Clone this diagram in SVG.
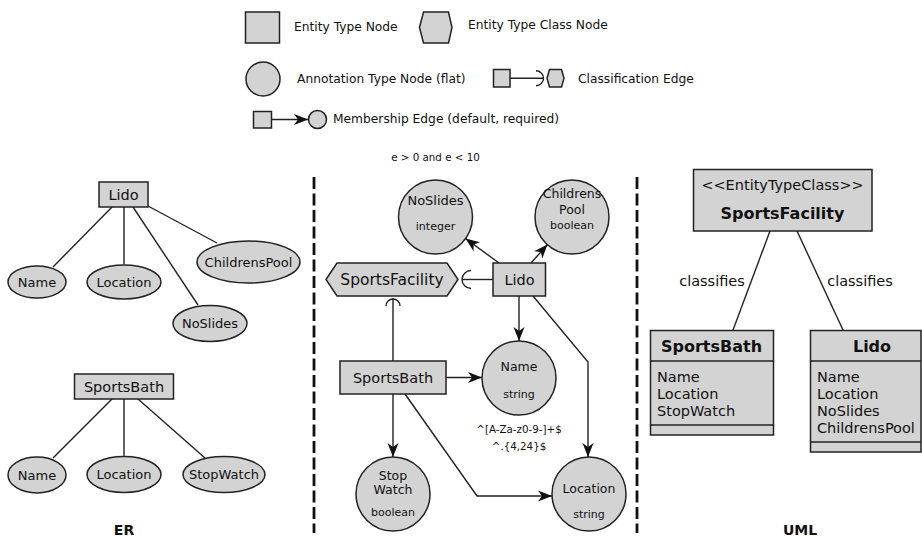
<svg xmlns="http://www.w3.org/2000/svg" width="922" height="537" viewBox="0 0 922 537">
  <defs>
    <style>
      .shape { fill: #d3d3d3; stroke: #222; stroke-width: 1.5; }
      .edge { fill: none; stroke: #222; stroke-width: 1.4; }
      .arrow { fill: none; stroke: #222; stroke-width: 1.4; marker-end: url(#tip); }
      .sep { fill: none; stroke: #111; stroke-width: 2.8; stroke-dasharray: 12 4.5; }
      text { font-family: "DejaVu Sans", "Noto Sans", sans-serif; fill: #111; }
      .lg { font-size: 12.25px; }
      .c { text-anchor: middle; dominant-baseline: central; }
      .ml { dominant-baseline: central; }
      .attr { font-size: 13px; }
      .small { font-size: 11px; }
      .tiny { font-size: 10.3px; }
      .box { font-size: 14.5px; }
      .uml { font-size: 14.5px; }
      .b { font-weight: bold; }
    </style>
    <marker id="tip" markerWidth="16" markerHeight="12" viewBox="-15 -6 16 12" refX="0" refY="0" orient="auto" markerUnits="userSpaceOnUse">
      <path d="M0,0 L-14,-5.5 L-10,0 L-14,5.5 Z" fill="#111"/>
    </marker>
  </defs>

  <!-- legend -->
  <g id="legend">
    <rect class="shape" x="245.5" y="12" width="34" height="31"/>
    <text class="lg ml" x="294" y="27">Entity Type Node</text>
    <polygon class="shape" points="419.5,27.5 423.5,12 448.5,12 452,27.5 448.5,43 423.5,43"/>
    <text class="lg ml" x="468" y="25">Entity Type Class Node</text>
    <circle class="shape" cx="263" cy="79" r="17"/>
    <text class="lg ml" x="297" y="79">Annotation Type Node (flat)</text>
    <rect class="shape" x="493.5" y="69.5" width="16.5" height="17.5"/>
    <path class="edge" d="M510,78.3 L543,78.3"/>
    <path class="edge" d="M536,70.8 A7.5,7.5 0 0,1 536,85.8"/>
    <polygon class="shape" points="547,78.3 549.5,69.5 561.5,69.5 564,78.3 561.5,87 549.5,87"/>
    <text class="lg ml" x="578" y="79">Classification Edge</text>
    <rect class="shape" x="253.5" y="111.5" width="18" height="16.5"/>
    <path class="arrow" d="M271.5,119.5 L308,119.5"/>
    <circle class="shape" cx="317.5" cy="119.5" r="9"/>
    <text class="lg ml" x="333" y="119">Membership Edge (default, required)</text>
  </g>

  <!-- section separators -->
  <g id="separators">
    <line class="sep" x1="314" y1="177" x2="314" y2="533"/>
    <line class="sep" x1="637" y1="177" x2="637" y2="533"/>
  </g>

  <!-- ER view -->
  <g id="er-connectors">
    <line class="edge" x1="112" y1="207" x2="53" y2="267"/>
    <line class="edge" x1="124" y1="207" x2="124" y2="264"/>
    <line class="edge" x1="133" y1="207" x2="198" y2="305"/>
    <line class="edge" x1="148" y1="206" x2="217" y2="243"/>
    <line class="edge" x1="112" y1="399" x2="53" y2="458"/>
    <line class="edge" x1="124" y1="399" x2="124" y2="456"/>
    <line class="edge" x1="138" y1="399" x2="205" y2="458"/>
  </g>
  <g id="er-lido">
    <rect class="shape" x="99" y="182" width="49" height="25"/>
    <text class="box c" x="123.5" y="194.5">Lido</text>
  </g>
  <g id="er-lido-name">
    <ellipse class="shape" cx="37" cy="282" rx="29" ry="16"/>
    <text class="attr c" x="37" y="282">Name</text>
  </g>
  <g id="er-lido-location">
    <ellipse class="shape" cx="124" cy="282" rx="37" ry="17"/>
    <text class="attr c" x="124" y="282">Location</text>
  </g>
  <g id="er-lido-noslides">
    <ellipse class="shape" cx="210" cy="323.5" rx="37" ry="18"/>
    <text class="attr c" x="210" y="323.5">NoSlides</text>
  </g>
  <g id="er-lido-childrenspool">
    <ellipse class="shape" cx="248.5" cy="262" rx="51.5" ry="21"/>
    <text class="attr c" x="248.5" y="262">ChildrensPool</text>
  </g>
  <g id="er-sportsbath">
    <rect class="shape" x="74.5" y="374" width="99" height="25"/>
    <text class="box c" x="124" y="386.5">SportsBath</text>
  </g>
  <g id="er-sportsbath-name">
    <ellipse class="shape" cx="37" cy="475" rx="29" ry="18"/>
    <text class="attr c" x="37" y="475">Name</text>
  </g>
  <g id="er-sportsbath-location">
    <ellipse class="shape" cx="124" cy="474.5" rx="37" ry="18"/>
    <text class="attr c" x="124" y="474.5">Location</text>
  </g>
  <g id="er-sportsbath-stopwatch">
    <ellipse class="shape" cx="224" cy="474.5" rx="41" ry="18"/>
    <text class="attr c" x="224" y="474.5">StopWatch</text>
  </g>
  <text class="b c" x="124" y="530" font-size="14">ER</text>

  <!-- type graph view -->
  <g id="tg-connectors">
    <path class="arrow" d="M499,263 L465.5,238.5"/>
    <path class="arrow" d="M531,263 L547.5,244.5"/>
    <path class="arrow" d="M519,296 L519,341"/>
    <path class="arrow" d="M533,296 L588,362 L588,457"/>
    <path class="arrow" d="M446,377.5 L482,377.5"/>
    <path class="arrow" d="M393,394 L393,457"/>
    <path class="arrow" d="M405,394 L477,496 L552,496"/>
    <path class="edge" d="M493,279.5 L462,279.5"/>
    <path class="edge" d="M471,270.5 A9,9 0 0,0 471,288.5"/>
    <path class="edge" d="M393,361 L393,298"/>
    <path class="edge" d="M386,306 A7,7 0 0,1 400,306"/>
  </g>
  <text class="tiny c" x="435.5" y="157">e &gt; 0 and e &lt; 10</text>
  <g id="tg-noslides">
    <circle class="shape" cx="435.5" cy="217" r="37"/>
    <text class="attr c" x="435.5" y="200" font-size="12.5">NoSlides</text>
    <text class="small c" x="435.5" y="226">integer</text>
  </g>
  <g id="tg-childrenspool">
    <circle class="shape" cx="572" cy="217" r="37"/>
    <text class="c" x="572" y="193" font-size="12.5">Childrens</text>
    <text class="c" x="572" y="209" font-size="12.5">Pool</text>
    <text class="small c" x="572" y="225">boolean</text>
  </g>
  <g id="tg-sportsfacility">
    <polygon class="shape" points="326,279.5 337,263 447,263 458,279.5 447,296 337,296"/>
    <text class="c" x="392" y="280" font-size="15.5">SportsFacility</text>
  </g>
  <g id="tg-lido">
    <rect class="shape" x="493" y="263" width="52.5" height="33"/>
    <text class="box c" x="519.5" y="280">Lido</text>
  </g>
  <g id="tg-sportsbath">
    <rect class="shape" x="340" y="361" width="106" height="33"/>
    <text class="box c" x="393" y="378">SportsBath</text>
  </g>
  <g id="tg-name">
    <circle class="shape" cx="519" cy="378" r="37"/>
    <text class="c" x="519" y="366" font-size="12.5">Name</text>
    <text class="small c" x="519" y="394">string</text>
  </g>
  <text class="tiny c" x="519" y="429">^[A-Za-z0-9-]+$</text>
  <text class="tiny c" x="519" y="446">^.{4,24}$</text>
  <g id="tg-stopwatch">
    <circle class="shape" cx="393" cy="494" r="37"/>
    <text class="c" x="393" y="475" font-size="12.5">Stop</text>
    <text class="c" x="393" y="489.5" font-size="12.5">Watch</text>
    <text class="small c" x="393" y="512">boolean</text>
  </g>
  <g id="tg-location">
    <circle class="shape" cx="589" cy="494" r="37"/>
    <text class="c" x="589" y="488" font-size="12.5">Location</text>
    <text class="small c" x="589" y="514">string</text>
  </g>

  <!-- UML view -->
  <g id="uml-connectors">
    <line class="edge" x1="770" y1="231" x2="733" y2="330"/>
    <line class="edge" x1="797" y1="231" x2="843" y2="330"/>
    <text class="uml c" x="712" y="281">classifies</text>
    <text class="uml c" x="860" y="281">classifies</text>
  </g>
  <g id="uml-sportsfacility">
    <rect class="shape" x="693.5" y="169.5" width="178.5" height="61.5"/>
    <text class="uml c" x="782.5" y="185">&lt;&lt;EntityTypeClass&gt;&gt;</text>
    <text class="b c" x="782.5" y="213" font-size="16">SportsFacility</text>
  </g>
  <g id="uml-sportsbath">
    <rect class="shape" x="650.5" y="330.5" width="123" height="104.5"/>
    <line class="edge" x1="650.5" y1="361" x2="773.5" y2="361" stroke-width="1.8"/>
    <line class="edge" x1="650.5" y1="425" x2="773.5" y2="425" stroke-width="2"/>
    <text class="b c" x="711.5" y="346" font-size="16">SportsBath</text>
    <text class="uml ml" x="657" y="376.5">Name</text>
    <text class="uml ml" x="657" y="393.5">Location</text>
    <text class="uml ml" x="657" y="410.5">StopWatch</text>
  </g>
  <g id="uml-lido">
    <rect class="shape" x="810.5" y="330.5" width="110.5" height="121.5"/>
    <line class="edge" x1="810.5" y1="361" x2="921" y2="361" stroke-width="1.8"/>
    <line class="edge" x1="810.5" y1="442" x2="921" y2="442" stroke-width="2"/>
    <text class="b c" x="872" y="346" font-size="16">Lido</text>
    <text class="uml ml" x="817" y="376.5">Name</text>
    <text class="uml ml" x="817" y="393.5">Location</text>
    <text class="uml ml" x="817" y="410.5">NoSlides</text>
    <text class="uml ml" x="817" y="427.5">ChildrensPool</text>
  </g>
  <text class="b c" x="800" y="530" font-size="14">UML</text>
</svg>
